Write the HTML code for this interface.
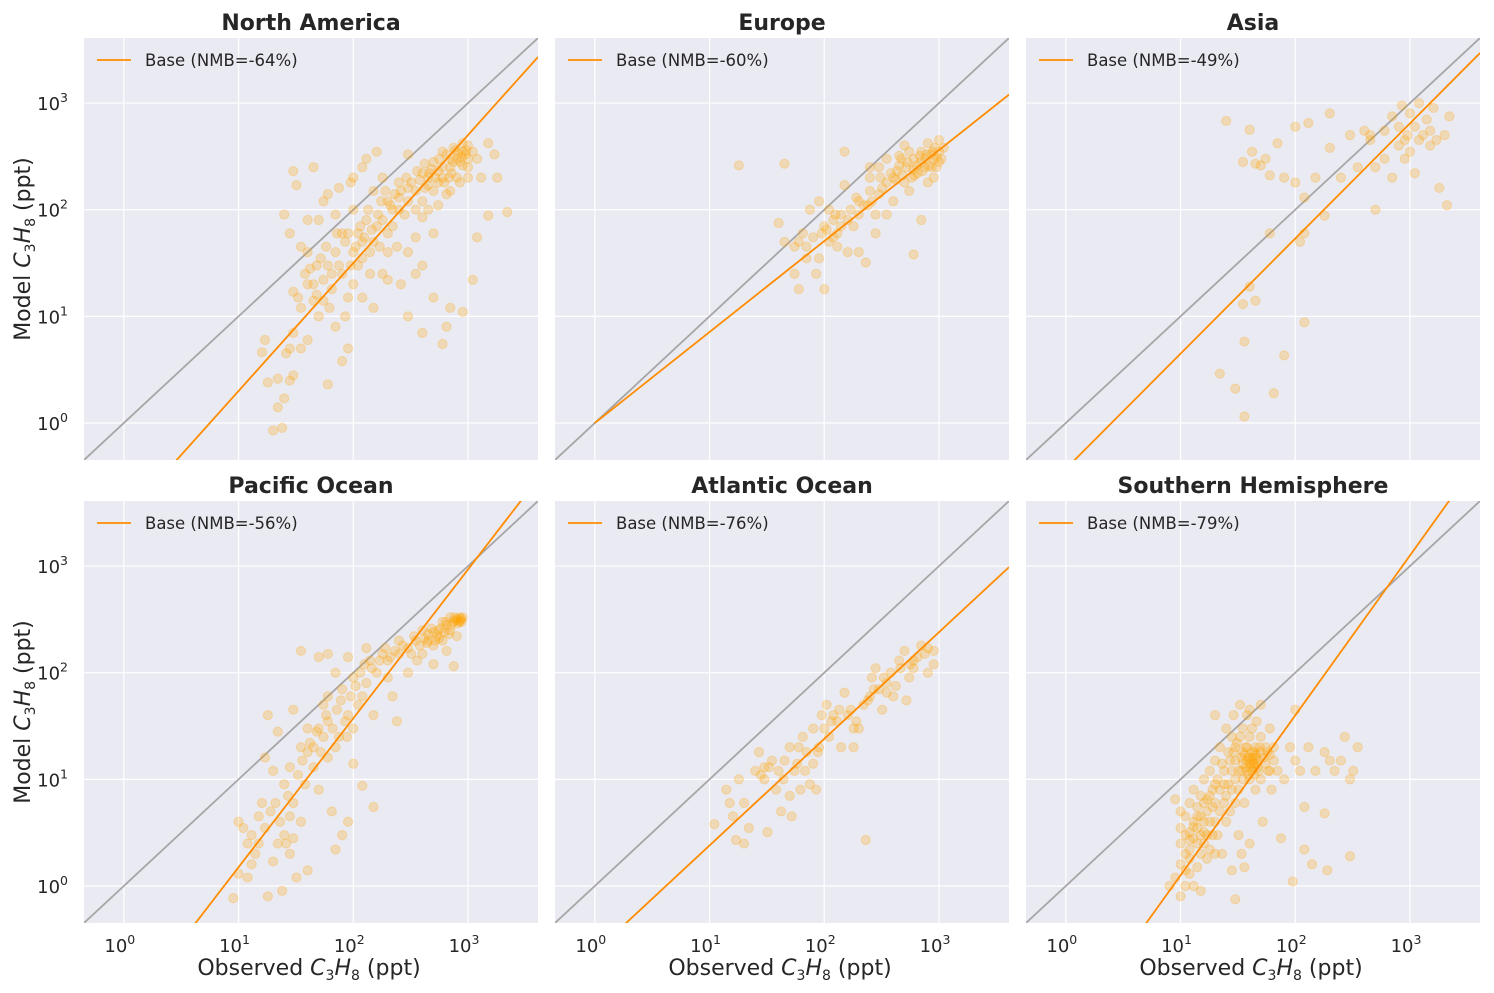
<!DOCTYPE html>
<html><head><meta charset="utf-8"><style>
body{margin:0;background:#fff}
svg{display:block;font-family:"DejaVu Sans","Liberation Sans",sans-serif}
</style></head><body>
<svg id="fig" width="1494" height="993" viewBox="0 0 1494 993" xmlns="http://www.w3.org/2000/svg"></svg>
<script>
const panelTitles=["North America","Europe","Asia","Pacific Ocean","Atlantic Ocean","Southern Hemisphere"];
const nmbLabels=["Base (NMB=-64%)","Base (NMB=-60%)","Base (NMB=-49%)","Base (NMB=-56%)","Base (NMB=-76%)","Base (NMB=-79%)"];
const fitSlopes=[1.2,0.853,1.08,1.396,1.0,1.5];
const fitIntercepts=[-0.9,0.0,-0.43,-1.22,-0.62,-1.4];
const tickExps=[0,1,2,3];
const ptsNA=[[20,0.85],[24,0.9],[22,1.4],[25,1.7],[28,2.5],[18,2.4],[22,2.6],[30,2.8],[26,4.5],[16,4.6],[17,6],[28,5],[35,5],[30,7],[40,6],[60,2.3],[80,3.8],[90,5],[70,8],[50,10],[45,14],[40,20],[55,22],[35,12],[30,17],[60,30],[70,40],[80,25],[90,15],[100,20],[120,35],[110,60],[130,80],[150,50],[150,12],[180,25],[200,40],[220,70],[250,100],[260,20],[300,10],[350,25],[400,7],[500,15],[600,5.5],[650,8],[700,12],[900,11],[1100,22],[1200,55],[1500,88],[2200,95],[1700,330],[1500,420],[1200,300],[1000,400],[1000,250],[900,350],[800,300],[700,250],[600,200],[550,180],[500,150],[450,200],[400,120],[350,100],[300,160],[280,90],[250,180],[200,120],[180,200],[150,150],[120,250],[100,100],[80,60],[70,90],[60,140],[50,80],[45,250],[30,230],[32,170],[25,90],[28,60],[40,40],[100,200],[130,300],[160,350],[300,330],[500,280],[800,200],[900,420],[1300,200],[750,380],[650,330],[1800,200],[600,250],[700,300],[850,280],[950,330],[450,170],[400,220],[350,150],[300,120],[250,130],[220,100],[200,60],[180,80],[160,70],[140,40],[120,50],[100,40],[90,60],[75,30],[65,18],[55,14],[48,30],[38,25],[33,15],[120,15],[200,22],[350,55],[500,60],[400,85],[650,140],[1100,350],[1000,200],[850,180],[550,230],[480,240],[420,160],[380,190],[600,350],[720,220],[780,360],[900,260],[1000,300],[45,20],[52,35],[58,45],[65,25],[72,60],[85,50],[95,30],[105,45],[115,70],[125,55],[135,100],[145,65],[165,90],[175,120],[190,150],[210,110],[230,140],[260,150],[290,200],[320,180],[360,230],[420,270],[460,220],[520,200],[560,300],[620,180],[680,200],[740,280],[820,340],[880,310],[960,360],[40,80],[55,120],[75,160],[95,180],[35,45],[42,28],[48,16],[62,12],[85,10],[110,30],[140,25],[170,45],[240,45],[300,40],[400,30],[450,100],[550,110],[700,150]];
const ptsEU=[[18,260],[45,270],[40,75],[45,50],[55,25],[60,18],[55,45],[70,35],[80,55],[75,100],[90,120],[85,25],[100,18],[100,70],[110,50],[120,80],[130,60],[140,90],[150,350],[160,40],[180,70],[200,120],[200,40],[220,110],[250,150],[250,200],[280,90],[300,250],[300,140],[350,180],[350,300],[400,200],[400,120],[450,260],[500,400],[500,180],[550,150],[600,300],[600,38],[650,220],[700,80],[700,350],[750,250],[800,180],[800,420],[900,300],[950,250],[1000,350],[1050,300],[1100,380],[900,200],[850,330],[700,280],[450,320],[350,90],[280,60],[230,32],[170,100],[130,45],[110,100],[90,35],[65,60],[150,170],[250,250],[1000,450],[600,240],[550,350],[60,50],[70,45],[95,60],[120,55],[140,70],[200,90],[240,110],[320,160],[380,220],[420,190],[480,210],[520,250],[580,200],[640,260],[680,320],[760,300],[820,260],[880,350],[950,310],[105,65],[125,90],[160,80],[190,130],[260,120],[310,200],[430,230],[470,300],[530,280],[610,210],[720,230],[780,330],[860,250],[920,380],[1000,280]];
const ptsAS=[[25,680],[40,560],[42,350],[45,270],[50,260],[55,300],[60,210],[35,280],[70,420],[80,200],[100,180],[120,130],[110,50],[120,60],[120,8.8],[100,600],[130,650],[150,200],[200,800],[180,88],[200,380],[250,200],[300,500],[350,250],[400,550],[450,450],[500,100],[500,250],[600,300],[700,200],[700,750],[800,600],[850,950],[900,450],[1000,350],[1000,800],[1100,220],[1200,1000],[1300,500],[1400,700],[1500,400],[1600,900],[1800,160],[2000,500],[2100,110],[2200,750],[1500,550],[900,300],[36,1.15],[30,2.1],[22,2.9],[36,5.8],[35,13],[45,14],[40,19],[80,4.3],[65,1.9],[60,60],[1700,450],[1100,600],[450,500],[600,550],[800,400],[950,500],[1200,450]];
const ptsPA=[[9,0.77],[10,1.3],[12,2.5],[11,3.5],[10,4],[14,2],[15,4.5],[16,6],[18,0.8],[20,1.7],[22,2.5],[25,3],[28,2],[30,2.8],[24,0.9],[40,1.4],[32,1.2],[35,4],[30,6],[25,9],[28,13],[20,12],[18,40],[17,16],[22,28],[30,45],[35,20],[40,30],[45,13],[50,8],[55,25],[60,16],[60,60],[70,2.2],[65,5],[80,3],[90,4],[100,14],[100,30],[90,40],[80,70],[70,100],[60,150],[50,140],[35,160],[100,90],[120,60],[130,80],[140,130],[150,5.5],[120,8.7],[160,100],[180,150],[200,90],[220,60],[240,35],[250,150],[300,170],[300,100],[350,200],[400,150],[400,250],[450,200],[500,180],[500,120],[550,250],[600,200],[600,300],[650,160],[700,250],[700,330],[750,300],[800,320],[850,330],[800,220],[750,115],[900,330],[880,300],[650,280],[500,240],[450,230],[150,40],[250,200],[200,130],[110,50],[75,25],[55,50],[45,20],[38,9],[28,4.5],[13,3],[13,1.6],[90,140],[130,170],[820,290],[780,310],[860,310],[720,280],[680,230],[620,240],[560,210],[520,200],[480,260],[420,210],[380,180],[60,35],[70,20],[85,35],[40,18],[50,30],[12,1.2],[15,2.5],[17,3.5],[19,5],[21,6],[23,4],[26,2.5],[27,7],[33,11],[36,15],[42,22],[48,28],[52,18],[58,40],[66,30],[72,45],[78,55],[88,25],[95,60],[105,75],[115,100],[125,120],[145,110],[170,130],[190,170],[210,140],[230,160],[270,180],[320,150],[340,220],[360,130],[440,190],[540,220],[580,260],[640,300],[760,330],[840,300],[870,320]];
const ptsAT=[[11,3.8],[14,8],[15,6],[16,4.5],[17,2.7],[18,10],[20,2.5],[20,6],[22,3.5],[25,12],[27,18],[30,10],[30,13],[32,3.2],[35,15],[38,8],[40,12],[42,5],[45,15],[50,20],[50,7],[52,4.5],[55,12],[60,20],[62,8],[65,25],[70,18],[75,9],[80,30],[80,14],[85,8],[90,20],[95,40],[100,30],[105,50],[110,25],[120,40],[130,35],[140,20],[150,65],[160,40],[170,45],[180,20],[200,30],[220,50],[230,2.7],[250,60],[260,90],[280,110],[300,70],[320,45],[350,80],[380,100],[400,60],[420,75],[450,130],[500,160],[520,55],[550,90],[600,130],[650,140],[700,180],[750,150],[800,100],[900,160],[900,120],[800,170],[600,110],[350,65],[180,30],[28,11],[33,13],[44,10],[58,14],[68,12],[88,18],[115,35],[135,45],[190,35],[240,55],[270,70],[330,90],[460,110],[560,120]];
const ptsSH=[[8,1],[9,1.2],[9,6.5],[10,0.8],[10,1.6],[10,2.5],[10,3.5],[10,5],[11,1],[11,2],[11,3],[11,4.5],[12,1.3],[12,2.2],[12,3.2],[12,6],[12,1.8],[13,1],[13,2.8],[13,4],[13,8],[14,1.5],[14,2.5],[14,3.5],[14,5.5],[15,0.9],[15,2],[15,3],[15,4.5],[15,7],[16,2.5],[16,4],[16,6],[16,10],[17,1.8],[17,3],[17,5],[18,2.2],[18,4],[18,7],[18,12],[19,3],[19,5.5],[20,2],[20,4],[20,6],[20,9],[20,15],[20,40],[21,3],[22,5],[22,8],[22,20],[23,2],[24,6],[24,12],[25,4],[25,7],[25,30],[26,9],[26,18],[27,5],[28,8],[28,12],[28,25],[29,40],[30,6],[30,10],[30,15],[30,20],[32,3],[32,8],[32,12],[33,25],[33,50],[34,2],[35,10],[35,14],[35,18],[35,30],[36,1.5],[36,6],[38,12],[38,15],[38,20],[38,40],[40,10],[40,14],[40,16],[40,25],[40,45],[42,12],[42,15],[42,30],[44,13],[44,18],[45,8],[45,14],[45,20],[46,35],[48,15],[48,12],[50,10],[50,18],[50,25],[50,50],[52,4],[55,14],[55,20],[58,12],[60,17],[60,30],[62,8],[65,15],[65,20],[70,12],[75,2.8],[80,10],[90,20],[95,1.1],[100,45],[100,15],[110,12],[120,5.5],[120,2.2],[130,20],[140,1.6],[150,12],[180,4.8],[180,18],[190,1.4],[200,15],[220,12],[250,15],[270,25],[300,10],[300,1.9],[320,12],[350,20],[30,0.75],[40,2.5],[28,1.4],[41,13],[43,14],[39,16],[37,13],[46,16],[44,11],[36,17],[42,18],[47,13],[34,12],[11,1.4],[12,2.7],[13,3.6],[14,4.5],[16,3.2],[17,6.5],[19,8],[21,10],[23,14],[24,9],[27,15],[29,18],[31,22],[34,16],[37,20],[39,11],[43,16],[45,17],[49,20],[53,16],[57,18],[60,12]];
const allPts=[ptsNA,ptsEU,ptsAS,ptsPA,ptsAT,ptsSH];

const NS="http://www.w3.org/2000/svg";
const svg=document.getElementById('fig');
const LMIN=-0.347,LMAX=3.61,PW=454,PH=422;
const lefts=[84,555,1026],tops=[38,501];
function mk(tag,attrs,parent){const e=document.createElementNS(NS,tag);for(const k in attrs)e.setAttribute(k,attrs[k]);(parent||svg).appendChild(e);return e;}
function sup(parent,base,exp){const t1=document.createElementNS(NS,'tspan');t1.textContent=base;parent.appendChild(t1);const t2=document.createElementNS(NS,'tspan');t2.setAttribute('dy','-8');t2.setAttribute('font-size','12.5');t2.textContent=exp;parent.appendChild(t2);}

for(let p=0;p<6;p++){
  const x0=lefts[p%3],y0=tops[Math.floor(p/3)];
  const sx=v=>x0+(Math.log10(v)-LMIN)/(LMAX-LMIN)*PW;
  const sy=v=>y0+PH-(Math.log10(v)-LMIN)/(LMAX-LMIN)*PH;
  const g=mk('g',{});
  
  
  const bg=mk('rect',{x:x0,y:y0,width:PW,height:PH,fill:'#EAEAF2'},g);
  
  
  const cp=mk('clipPath',{id:'c'+p},g);mk('rect',{x:x0,y:y0,width:PW,height:PH},cp);
  for(const e of tickExps){
    const v=Math.pow(10,e);
    const gx=mk('line',{x1:sx(v),x2:sx(v),y1:y0,y2:y0+PH,stroke:'#fff','stroke-width':1.2},g);
    
    
    const gy=mk('line',{x1:x0,x2:x0+PW,y1:sy(v),y2:sy(v),stroke:'#fff','stroke-width':1.2},g);
    
    
    if(p>=3){const t=mk('text',{x:sx(v)-4,y:y0+PH+29,'text-anchor':'middle','font-size':18,fill:'#262626'},g);sup(t,'10',e);
      
      }
    if(p%3===0){const t=mk('text',{x:x0-16,y:sy(v)+7,'text-anchor':'end','font-size':18,fill:'#262626'},g);sup(t,'10',e);
      
      }
  }
  const inner=mk('g',{'clip-path':'url(#c'+p+')'},g);
  const one=mk('line',{x1:sx(Math.pow(10,LMIN)),y1:sy(Math.pow(10,LMIN)),x2:sx(Math.pow(10,LMAX)),y2:sy(Math.pow(10,LMAX)),stroke:'#a6a6a6','stroke-width':1.8},inner);
  
  
  for(const pt of allPts[p]){
    const c=mk('circle',{cx:sx(pt[0]),cy:sy(pt[1]),r:4.6,fill:'#FFA500','fill-opacity':0.25,stroke:'#FFA500','stroke-opacity':0.25,'stroke-width':1},inner);
    
    
  }
  const xa=1,xb=Math.pow(10,LMAX);
  const fy=v=>Math.pow(10,fitSlopes[p]*Math.log10(v)+fitIntercepts[p]);
  const fl=mk('line',{x1:sx(xa),y1:sy(fy(xa)),x2:sx(xb),y2:sy(fy(xb)),stroke:'#FF8C00','stroke-width':1.8},inner);
  
  
  const tt=mk('text',{x:x0+PW/2,y:y0-8,'text-anchor':'middle','font-size':22,'font-weight':'bold',fill:'#262626'},g);
  tt.textContent=panelTitles[p];
  
  
  const lg=mk('g',{},g);
  
  
  mk('line',{x1:x0+13,x2:x0+47,y1:y0+22,y2:y0+22,stroke:'#FF8C00','stroke-width':1.8},lg);
  const lt=mk('text',{x:x0+61,y:y0+28,'font-size':16.5,fill:'#262626'},lg);lt.textContent=nmbLabels[p];
  if(p>=3){const t=mk('text',{x:x0+PW/2-2,y:975,'text-anchor':'middle','font-size':22,fill:'#262626'},g);
    t.innerHTML='Observed <tspan font-style="italic">C</tspan><tspan font-size="14" dy="5">3</tspan><tspan dy="-5" font-style="italic">H</tspan><tspan font-size="14" dy="5">8</tspan><tspan dy="-5"> (ppt)</tspan>';
    
    }
  if(p%3===0){const cy=y0+PH/2;const t=mk('text',{x:30,y:cy,'text-anchor':'middle','font-size':22,fill:'#262626',transform:'rotate(-90 30 '+cy+')'},g);
    t.innerHTML='Model <tspan font-style="italic">C</tspan><tspan font-size="14" dy="5">3</tspan><tspan dy="-5" font-style="italic">H</tspan><tspan font-size="14" dy="5">8</tspan><tspan dy="-5"> (ppt)</tspan>';
    
    }
}
</script>
</body></html>
